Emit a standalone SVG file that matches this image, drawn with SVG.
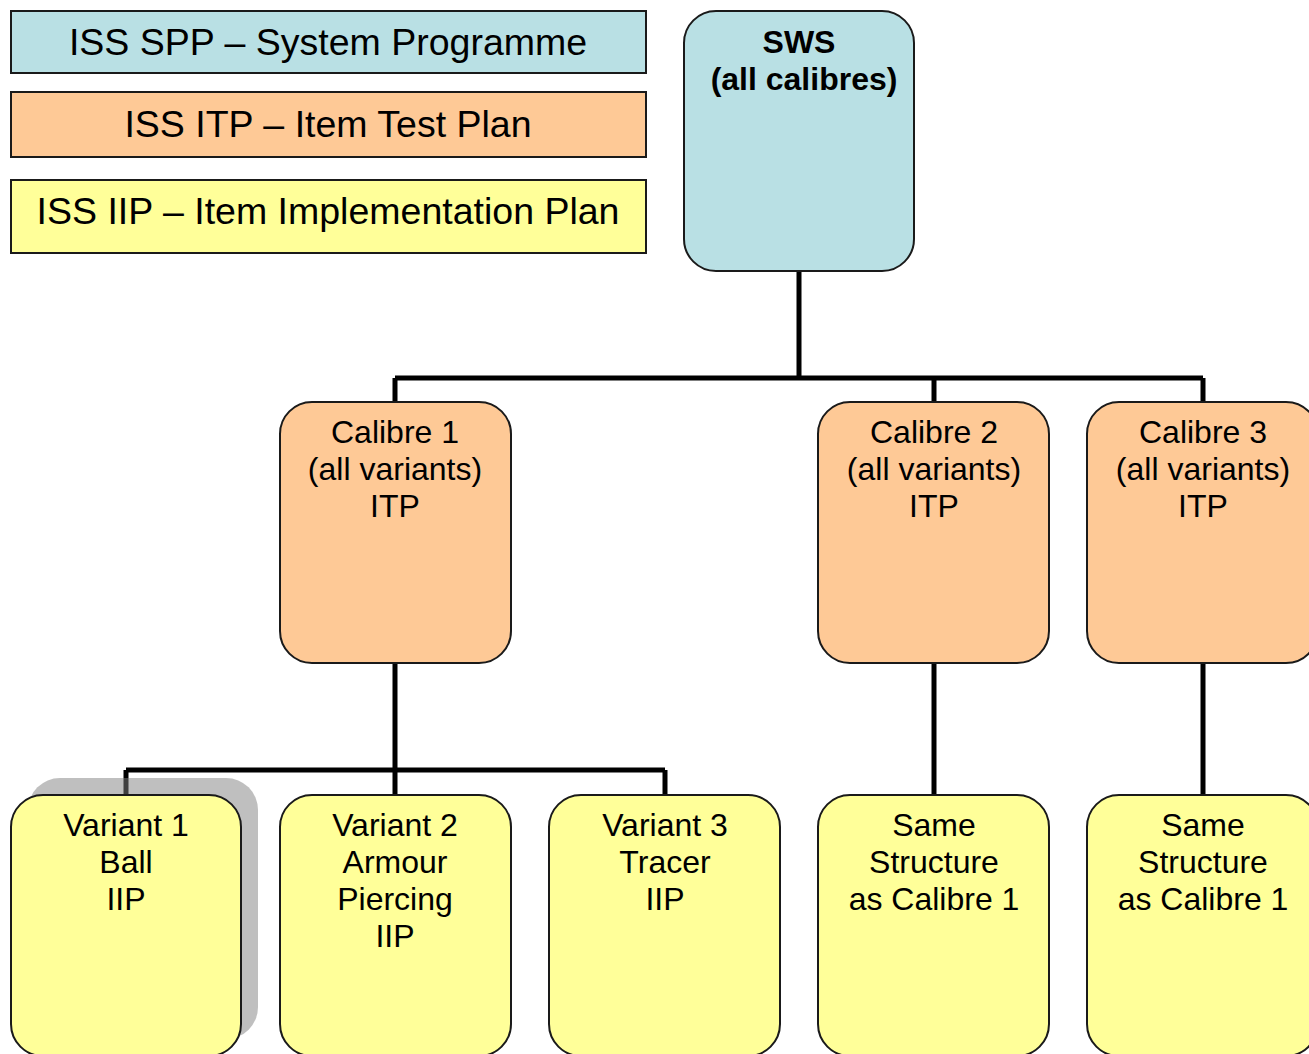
<svg xmlns="http://www.w3.org/2000/svg" width="1309" height="1054" viewBox="0 0 1309 1054">
  <style>
    .legend { stroke: #1a1a1a; stroke-width: 2; }
    .box { stroke: #1a1a1a; stroke-width: 2; }
    .sws { fill: #b9e0e4; }
    .itp { fill: #fec996; }
    .iip { fill: #ffff99; }
    .wire { fill: none; stroke: #000; stroke-width: 5; }
    text { font-family: "Liberation Sans", Arial, sans-serif; fill: #000; text-anchor: middle; }
    .lt { font-size: 37.5px; }
    .nt { font-size: 32px; }
    .bold { font-weight: bold; }
  </style>

  <rect width="1309" height="1054" fill="#fff"/>

  <!-- legend -->
  <g id="legend-spp">
    <rect class="legend sws" x="11" y="11" width="635" height="62"/>
    <text class="lt" x="328" y="55">ISS SPP – System Programme</text>
  </g>
  <g id="legend-itp">
    <rect class="legend itp" x="11" y="92" width="635" height="65"/>
    <text class="lt" x="328" y="137">ISS ITP – Item Test Plan</text>
  </g>
  <g id="legend-iip">
    <rect class="legend iip" x="11" y="180" width="635" height="73"/>
    <text class="lt" x="328" y="224">ISS IIP – Item Implementation Plan</text>
  </g>

  <!-- connectors -->
  <g id="connectors">
    <path class="wire" d="M799 271 V378 M395 378 H1203 M395 378 V402 M934 378 V402 M1203 378 V402"/>
    <path class="wire" d="M395 663 V770 M126 770 H665 M126 770 V795 M395 770 V795 M665 770 V795"/>
    <path class="wire" d="M934 663 V795 M1203 663 V795"/>
  </g>

  <!-- top level -->
  <g id="sws">
    <rect class="box sws" x="684" y="11" width="230" height="260" rx="32"/>
    <text class="nt bold" x="799" y="53">SWS</text>
    <text class="nt bold" x="804" y="90">(all calibres)</text>
  </g>

  <!-- calibre ITPs -->
  <g id="calibre1">
    <rect class="box itp" x="280" y="402" width="231" height="261" rx="32"/>
    <text class="nt" x="395" y="443">Calibre 1</text>
    <text class="nt" x="395" y="480">(all variants)</text>
    <text class="nt" x="395" y="517">ITP</text>
  </g>
  <g id="calibre2">
    <rect class="box itp" x="818" y="402" width="231" height="261" rx="32"/>
    <text class="nt" x="934" y="443">Calibre 2</text>
    <text class="nt" x="934" y="480">(all variants)</text>
    <text class="nt" x="934" y="517">ITP</text>
  </g>
  <g id="calibre3">
    <rect class="box itp" x="1087" y="402" width="231" height="261" rx="32"/>
    <text class="nt" x="1203" y="443">Calibre 3</text>
    <text class="nt" x="1203" y="480">(all variants)</text>
    <text class="nt" x="1203" y="517">ITP</text>
  </g>

  <!-- variant IIPs -->
  <g id="variant1">
    <rect x="28" y="778" width="230" height="261" rx="32" fill="#808080" fill-opacity="0.5"/>
    <rect class="box iip" x="11" y="795" width="230" height="261" rx="32"/>
    <text class="nt" x="126" y="836">Variant 1</text>
    <text class="nt" x="126" y="873">Ball</text>
    <text class="nt" x="126" y="910">IIP</text>
  </g>
  <g id="variant2">
    <rect class="box iip" x="280" y="795" width="231" height="261" rx="32"/>
    <text class="nt" x="395" y="836">Variant 2</text>
    <text class="nt" x="395" y="873">Armour</text>
    <text class="nt" x="395" y="910">Piercing</text>
    <text class="nt" x="395" y="947">IIP</text>
  </g>
  <g id="variant3">
    <rect class="box iip" x="549" y="795" width="231" height="261" rx="32"/>
    <text class="nt" x="665" y="836">Variant 3</text>
    <text class="nt" x="665" y="873">Tracer</text>
    <text class="nt" x="665" y="910">IIP</text>
  </g>
  <g id="calibre2-variants">
    <rect class="box iip" x="818" y="795" width="231" height="261" rx="32"/>
    <text class="nt" x="934" y="836">Same</text>
    <text class="nt" x="934" y="873">Structure</text>
    <text class="nt" x="934" y="910">as Calibre 1</text>
  </g>
  <g id="calibre3-variants">
    <rect class="box iip" x="1087" y="795" width="231" height="261" rx="32"/>
    <text class="nt" x="1203" y="836">Same</text>
    <text class="nt" x="1203" y="873">Structure</text>
    <text class="nt" x="1203" y="910">as Calibre 1</text>
  </g>
</svg>
